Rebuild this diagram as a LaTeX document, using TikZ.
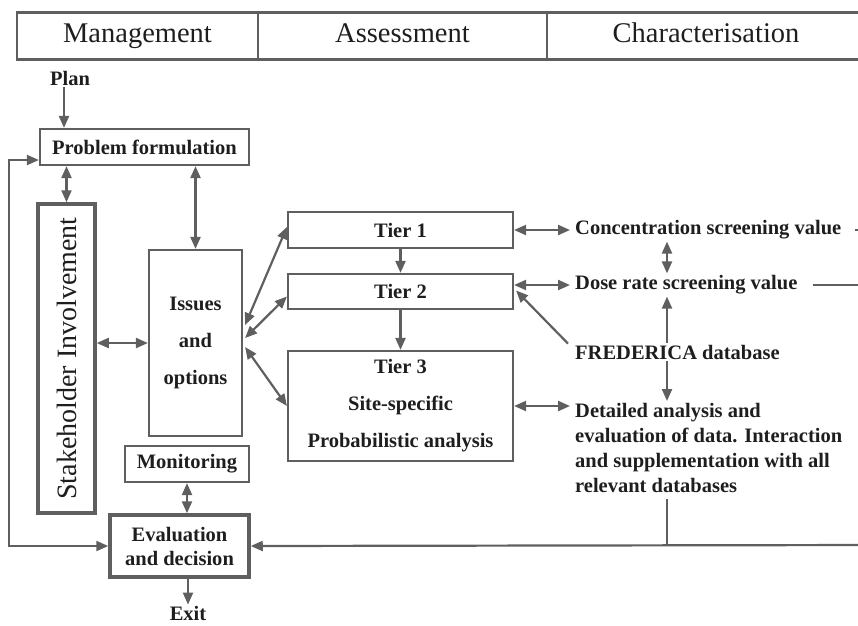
\documentclass[tikz,border=0pt]{standalone}
\usepackage{fontspec}
\setmainfont{Liberation Serif}
\usetikzlibrary{arrows.meta,calc}
\definecolor{linegray}{RGB}{95,95,95}
\definecolor{inkgray}{RGB}{30,30,30}
\tikzset{
    box/.style={draw=linegray, line width=2.2pt, text=inkgray, font=\fontsize{20.5}{37}\selectfont\bfseries, align=center, inner sep=0pt},
    heavybox/.style={box, line width=3.5pt},
    headcell/.style={draw=linegray, line width=2.5pt, text=inkgray, font=\fontsize{28.5}{30}\selectfont, minimum height=47pt, inner sep=0pt, text height=19pt, text depth=6pt},
    plaintext/.style={text=inkgray, font=\fontsize{20.5}{25}\selectfont\bfseries, inner xsep=5pt, inner ysep=2pt},
    arr/.style={draw=linegray, line width=2.2pt, -{Triangle[length=12pt,width=10pt]}},
    darr/.style={draw=linegray, line width=2.2pt, {Triangle[length=12pt,width=10pt]}-{Triangle[length=12pt,width=10pt]}},
    wire/.style={draw=linegray, line width=2.2pt}
}

\begin{document}
\begin{tikzpicture}[x=1pt,y=-1pt]
    \useasboundingbox (0,0) rectangle (858,625);
    \clip (0,0) rectangle (858,625);

    %% Header row
    \draw (137.5,36) node [headcell, minimum width=241pt] (hmanage) {Management};
    \draw (402.5,36) node [headcell, minimum width=289pt] (hassess) {Assessment};
    \draw (706,36) node [headcell, minimum width=318pt] (hcharac) {Characterisation};

    %% Management column
    \draw (70,78) node [plaintext] (plan) {Plan};
    \draw (144.5,147) node [box, minimum width=209pt, minimum height=36pt] (probform) {Problem formulation};
    \draw (66.5,358.5) node [heavybox, minimum width=57pt, minimum height=309pt] (stake) {};
    \draw (stake.center) node [rotate=90, text=inkgray, font=\fontsize{28}{30}\selectfont] (staketext) {Stakeholder Involvement};
    \draw (195.5,343) node [box, minimum width=93pt, minimum height=186pt] (issues) {Issues\\and\\options};
    \draw (187,464) node [box, minimum width=124pt, minimum height=36pt] (monitor) {Monitoring};
    \draw (179.5,546) node [heavybox, minimum width=139pt, minimum height=62pt, font=\fontsize{20.5}{24}\selectfont\bfseries] (evaldec) {Evaluation\\and decision};
    \draw (188,613) node [plaintext, inner ysep=1pt] (exit) {Exit};

    %% Assessment column
    \draw (400.5,230) node [box, minimum width=225pt, minimum height=36pt] (tierone) {Tier 1};
    \draw (400.5,291.5) node [box, minimum width=225pt, minimum height=35pt] (tiertwo) {Tier 2};
    \draw (400.5,406) node [box, minimum width=225pt, minimum height=110pt] (tierthree) {Tier 3\\Site-specific\\Probabilistic analysis};

    %% Characterisation column
    \draw (570,230) node [plaintext, anchor=west] (concsv) {Concentration screening value};
    \draw (570,285) node [plaintext, anchor=west] (dosesv) {Dose rate screening value};
    \draw (570,352) node [plaintext, anchor=west] (frederica) {FREDERICA database};
    \draw (570,401) node [plaintext, anchor=north west, align=left] (detailed) {Detailed analysis and\\evaluation of data. Interaction\\and supplementation with all\\relevant databases};

    \coordinate (vline) at (667,0);
    \coordinate (loopleft) at (9,0);
    \coordinate (botright) at (870,545);

    %% Management links
    \draw [arr] ([xshift=-6pt]plan.south) -- ([xshift=-6pt]plan.south |- probform.north);
    \draw [darr] (stake.north |- probform.south) -- (stake.north);
    \draw [darr] (issues.north |- probform.south) -- (issues.north);
    \draw [darr] (stake.east |- issues.west) -- (issues.west);
    \draw [darr] (monitor.south) -- (monitor.south |- evaldec.north);
    \draw [arr] (evaldec.south -| exit) -- (exit.north);
    \draw [darr] ([yshift=-13pt]probform.west) -| (loopleft |- evaldec.west) -- (evaldec.west);

    %% Issues to the tiers
    \draw [darr] ($(issues.east)+(2,-18)$) -- ($(tierone.west)+(0,-3)$);
    \draw [darr] ($(issues.east)+(2,-5)$) -- ($(tiertwo.west)+(0,5)$);
    \draw [darr] ($(issues.east)+(2,4)$) -- (tierthree.west);
    \draw [arr] (tierone) -- (tiertwo);
    \draw [arr] (tiertwo) -- (tierthree);

    %% Tiers to characterisation
    \draw [darr] (tierone.east) -- (concsv.west);
    \draw [darr] (tiertwo.east |- dosesv.west) -- (dosesv.west);
    \draw [darr] (tierthree.east) -- (tierthree.east -| detailed.west);
    \draw [arr] ($(frederica.north west)+(-2,1)$) -- ($(tiertwo.east)+(2,-1)$);
    \draw [darr] (concsv.south -| vline) -- (dosesv.north -| vline);
    \draw [arr] (frederica.north -| vline) -- (dosesv.south -| vline);
    \draw [arr] (frederica.south -| vline) -- (detailed.north -| vline);
    \draw [wire, shorten <=8pt] (concsv.east) -- ++(40,0);
    \draw [wire, shorten <=10pt] (dosesv.east) -- ++(80,0);

    %% Back to evaluation
    \draw [wire, shorten <=4pt] (detailed.south -| vline) -- (vline |- botright);
    \draw [arr] (botright) -- (evaldec.east);
\end{tikzpicture}
\end{document}
